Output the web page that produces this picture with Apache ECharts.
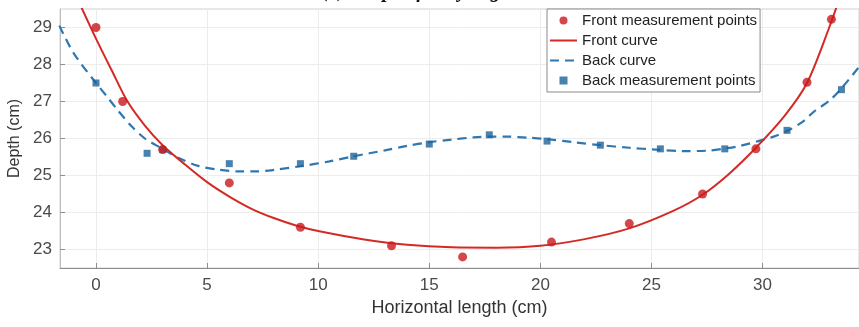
<!DOCTYPE html>
<html>
<head>
<meta charset="utf-8">
<script src="https://cdn.jsdelivr.net/npm/echarts@6/dist/echarts.min.js"></script>
<style>
html,body{margin:0;padding:0;background:#fff;}
#c{width:859px;height:327px;}
</style>
</head>
<body>
<div id="c"></div>
<script>
// ---- data ----
var frontX = [0, 1.2, 3.0, 6.0, 9.2, 13.3, 16.5, 20.5, 24.0, 27.3, 29.7, 32.0, 33.1];
var frontY = [29.0, 27.0, 25.7, 24.8, 23.6, 23.1, 22.8, 23.2, 23.7, 24.5, 25.72, 27.52, 29.22];

var backX = [0, 2.3, 3.0, 6.0, 9.2, 11.6, 15.0, 17.7, 20.3, 22.7, 25.4, 28.3, 31.1, 33.55];
var backY = [27.5, 25.6, 25.7, 25.32, 25.32, 25.52, 25.85, 26.1, 25.93, 25.82, 25.72, 25.72, 26.22, 27.32];

var frontCurveX = [-1.0, -0.7, 0, 0.7, 1.4, 2.2, 3.0, 4.0, 5.0, 6.0, 7.0, 8.0, 9.0, 10.0, 12.0, 14.0, 16.0, 18.0, 20.0, 22.0, 24.0, 26.0, 27.3, 28.5, 29.7, 31.0, 32.0, 33.0, 33.5, 34.0];
var frontCurveY = [30.0, 29.6, 28.7, 27.85, 27.02, 26.35, 25.82, 25.3, 24.82, 24.43, 24.1, 23.85, 23.65, 23.5, 23.28, 23.13, 23.06, 23.05, 23.1, 23.28, 23.57, 24.05, 24.48, 25.05, 25.75, 26.62, 27.5, 29.0, 29.85, 30.7];

var backCurveX = [-1.65, -1.0, 0, 0.5, 1.0, 1.6, 2.2, 2.7, 3.2, 3.7, 4.6, 5.5, 6.5, 7.2, 8.0, 9.2, 10.5, 11.6, 13.0, 14.0, 15.0, 16.0, 17.0, 17.7, 18.5, 19.5, 20.5, 21.5, 22.7, 24.0, 25.2, 26.4, 27.5, 28.3, 29.0, 29.8, 30.5, 31.1, 31.8, 32.3, 33.0, 33.5, 34.4];
var backCurveY = [29.05, 28.3, 27.5, 27.13, 26.75, 26.33, 26.0, 25.82, 25.65, 25.48, 25.26, 25.16, 25.11, 25.11, 25.15, 25.25, 25.38, 25.52, 25.68, 25.8, 25.9, 25.97, 26.03, 26.05, 26.05, 26.02, 25.97, 25.9, 25.82, 25.75, 25.7, 25.66, 25.67, 25.73, 25.8, 25.93, 26.05, 26.2, 26.45, 26.72, 27.02, 27.32, 27.98];

var xTicks = [0, 5, 10, 15, 20, 25, 30];
var yTicks = [23, 24, 25, 26, 27, 28, 29];

var titleText = '(a) Shape of body edge';
var legendNames = ['Front measurement points', 'Front curve', 'Back curve', 'Back measurement points'];

function pairs(xs, ys) { return xs.map(function (x, i) { return [x, ys[i]]; }); }

var chart = echarts.init(document.getElementById('c'), null, {renderer: 'canvas'});
var axisGray = '#8e8e8e';
var labelColor = '#4a4a4a';
var font = 'Liberation Sans, Arial, sans-serif';

chart.setOption({
  backgroundColor: '#ffffff',
  animation: false,
  title: {
    text: titleText,
    left: 322,
    top: -18,
    padding: 0,
    textStyle: {fontFamily: 'Liberation Serif, serif', fontStyle: 'italic', fontWeight: 'bold', fontSize: 20, color: '#111'}
  },
  grid: {left: 60, right: 0, top: 9, bottom: 59, containLabel: false, outerBoundsMode: 'none', show: true, borderColor: '#d0d0d0', borderWidth: 1, backgroundColor: 'transparent'},
  legend: {
    orient: 'vertical',
    left: 547,
    top: 9,
    padding: [4, 3, 4, 2],
    itemGap: 5,
    itemWidth: 27,
    itemHeight: 8,
    backgroundColor: '#ffffff',
    borderColor: '#8a8a8a',
    borderWidth: 1,
    borderRadius: 0,
    data: [
      {name: legendNames[0], icon: 'circle'},
      {name: legendNames[1], itemStyle: {opacity: 0}},
      {name: legendNames[2], itemStyle: {opacity: 0}},
      {name: legendNames[3], icon: 'path://M0,0L10,0L10,10L0,10Z'}
    ],
    textStyle: {fontFamily: font, fontSize: 15, color: '#222'}
  },
  xAxis: {
    type: 'value',
    min: -1.62,
    max: 34.34,
    name: 'Horizontal length (cm)',
    nameLocation: 'middle',
    nameGap: 31,
    nameTextStyle: {fontFamily: font, fontSize: 18, color: '#333'},
    axisLine: {show: true, onZero: false, lineStyle: {color: axisGray, width: 1}},
    axisTick: {show: true, inside: true, length: 5, customValues: xTicks, lineStyle: {color: axisGray}},
    axisLabel: {customValues: xTicks, margin: 9, color: labelColor, fontFamily: font, fontSize: 17},
    splitLine: {show: true, lineStyle: {color: '#ececec', width: 1}}
  },
  yAxis: {
    type: 'value',
    min: 22.5,
    max: 29.5,
    name: 'Depth (cm)',
    nameLocation: 'middle',
    nameGap: 30,
    nameTextStyle: {fontFamily: font, fontSize: 16, color: '#333'},
    axisLine: {show: true, onZero: false, lineStyle: {color: '#bdbdbd', width: 1}},
    axisTick: {show: true, inside: true, length: 5, customValues: yTicks, lineStyle: {color: axisGray}},
    axisLabel: {customValues: yTicks, margin: 8, color: labelColor, fontFamily: font, fontSize: 17},
    splitLine: {show: true, lineStyle: {color: '#ececec', width: 1}}
  },
  series: [
    {
      name: 'Back curve',
      type: 'line',
      data: pairs(backCurveX, backCurveY),
      smooth: 0.3,
      symbol: 'none',
      clip: true,
      lineStyle: {color: '#2f77b0', width: 2.2, type: [9, 6]},
      itemStyle: {color: '#2f77b0'},
      z: 2
    },
    {
      name: 'Back measurement points',
      type: 'scatter',
      data: pairs(backX, backY),
      symbol: 'rect',
      symbolSize: 7,
      itemStyle: {color: '#1d639a'},
      z: 3
    },
    {
      name: 'Front curve',
      type: 'line',
      data: pairs(frontCurveX, frontCurveY),
      smooth: 0.3,
      symbol: 'none',
      clip: true,
      lineStyle: {color: '#d42a26', width: 2},
      itemStyle: {color: '#d42a26'},
      z: 4
    },
    {
      name: 'Front measurement points',
      type: 'scatter',
      data: pairs(frontX, frontY),
      symbol: 'circle',
      symbolSize: 9,
      itemStyle: {color: '#c8191d'},
      z: 5
    }
  ]
});
</script>
</body>
</html>
